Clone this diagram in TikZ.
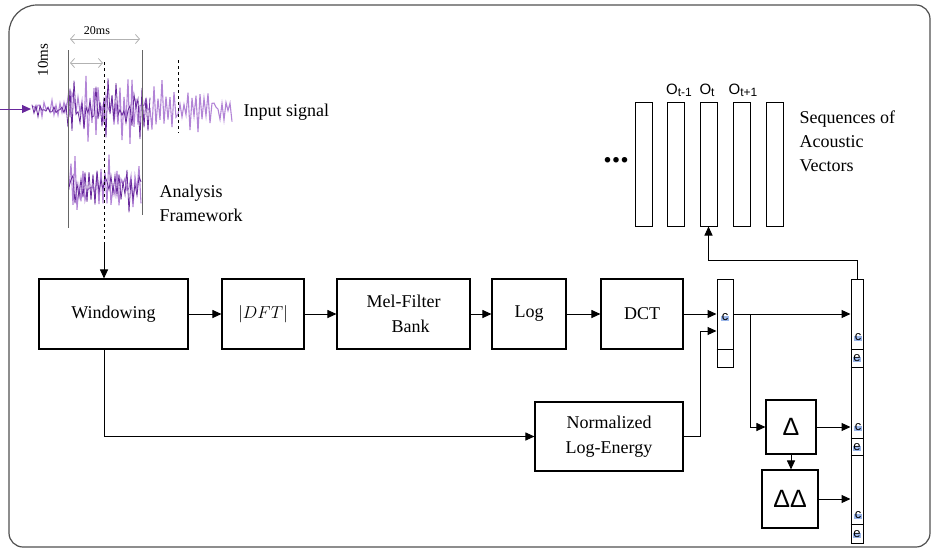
\documentclass[tikz,border=0pt]{standalone}
\usepackage{fontspec}
\setmainfont{Liberation Serif}
\newfontfamily\labelsans{Liberation Sans}
\usetikzlibrary{arrows.meta}

\definecolor{sigdark}{RGB}{104,40,156}
\definecolor{siglight}{RGB}{178,132,214}
\definecolor{framegray}{RGB}{80,80,80}
\definecolor{markblue}{RGB}{110,150,225}

\tikzset{
  stage/.style={draw, line width=1.1pt, minimum height=70pt, align=center,
    inner sep=2pt, font=\fontsize{18}{25}\selectfont},
  deltabox/.style={draw, line width=1.1pt, inner sep=0pt,
    font=\labelsans\fontsize{25}{25}\selectfont},
  vecbar/.style={draw, line width=1pt, minimum width=17pt, minimum height=124pt, inner sep=0pt},
  featbar/.style={draw, line width=1pt, inner sep=0pt},
  cellmark/.style={inner sep=0.6pt, font=\labelsans\fontsize{13}{13}\selectfont,
    path picture={\fill[markblue!70] (path picture bounding box.south west)
      rectangle ([yshift=5pt]path picture bounding box.south east);}},
  flow/.style={line width=1pt, -{Triangle[length=9pt,width=8pt]}},
  gap/.style={gray!60, line width=0.8pt,
    {Straight Barb[length=4pt,width=9pt]}-{Straight Barb[length=4pt,width=9pt]}},
  gaplabel/.style={font=\fontsize{12}{12}\selectfont},
  sidetext/.style={anchor=west, align=left, font=\fontsize{18}{24}\selectfont},
  olabel/.style={anchor=base, font=\labelsans\fontsize{15}{15}\selectfont},
}
\newcommand{\obs}[1]{O\raisebox{-2.5pt}{\fontsize{12}{12}\selectfont #1}}

\begin{document}
\begin{tikzpicture}[x=1pt, y=-1pt,
  declare function={sigamp(\t)=ifthenelse(\t<68,9,ifthenelse(\t<146,32,32-0.17*(\t-146)));
    sigwave(\t)=0.6*sin(10*mod(\t*9.5,36))+0.25*sin(10*mod(\t*23.3,36)+40)+0.35*rand;}]
\useasboundingbox (0,0) rectangle (931,549);
\pgfmathsetseed{17}

% Outer frame
\draw[framegray, line width=1.2pt] (9,300) -- (9,33) arc[start angle=180, end angle=270, radius=28]
  -- (916,5) arc[start angle=270, end angle=360, radius=14]
  -- (930,533) arc[start angle=0, end angle=90, radius=14]
  -- (23,547) arc[start angle=90, end angle=180, radius=14] -- cycle;

% Input signal
\coordinate (sigin) at (0,109);
\coordinate (sigstart) at (31,109);
\draw[sigdark, flow] (sigin) -- (sigstart);
\draw[siglight, line width=1.1pt] plot[domain=32:232, samples=101] (\x, {109+sigamp(\x)*sigwave(\x)});
\draw[sigdark, line width=0.8pt] plot[domain=32:150, samples=60] (\x, {109+0.85*sigamp(\x)*sigwave(\x+1)});
\node[sidetext] (sigtxt) at (240,112) {Input signal};

% Analysis frame
\draw[siglight, line width=1.1pt] plot[domain=69:141, samples=37] (\x, {186+30*sigwave(\x)});
\draw[sigdark, line width=0.8pt] plot[domain=69:141, samples=37] (\x, {186+24*sigwave(\x+1)});
\node[sidetext] (frametxt) at (156,203) {Analysis\\Framework};

% Frame length and shift
\draw[gray!80!black, line width=1pt] (68,50) -- (68,228) (142,50) -- (142,215);
\draw[dashed, line width=1pt] (104,62) -- (104,240) (178,60) -- (178,133);
\draw[gap] (70,39) -- (140,39);
\node[gaplabel] (lenlbl) at (97,31) {20ms};
\draw[gap] (70,63) -- (103,63);
\node[gaplabel, rotate=90, font=\fontsize{15}{15}\selectfont] (shiftlbl) at (43,60) {10ms};

% Front-end stages
\node[stage, minimum width=149pt] (win) at (113.5,314) {Windowing};
\node[stage, minimum width=82pt] (dft) at (263,314) {$|DFT|$};
\node[stage, minimum width=133pt] (mel) at (403.5,314) {Mel-Filter\\\hspace*{14pt}Bank};
\node[stage, minimum width=74pt] (log) at (529,314) {Log};
\node[stage, minimum width=82pt] (dct) at (642,314) {DCT};
\node[stage, minimum width=148pt, minimum height=69pt] (nle) at (609,436.5) {Normalized\\Log-Energy};

% Feature vectors
\node[featbar, minimum width=16pt, minimum height=88pt] (cvec) at (725,323) {};
\node[featbar, minimum width=12pt, minimum height=264pt] (bigv) at (857,411) {};
\draw[line width=1pt] (cvec.west |- 0,349) -- (cvec.east |- 0,349);
\foreach \yy in {349,367,438,455,524}
  \draw[line width=1pt] (bigv.west |- 0,\yy) -- (bigv.east |- 0,\yy);
\node[cellmark] (c0) at (725,317) {c};
\node[cellmark] (c1) at (858,337) {c};
\node[cellmark] (e1) at (857,358) {e};
\node[cellmark] (c2) at (858,427) {c};
\node[cellmark] (e2) at (857,447) {e};
\node[cellmark] (c3) at (858,515) {c};
\node[cellmark] (e3) at (857,534) {e};

% Deltas
\node[deltabox, minimum width=50pt, minimum height=54pt] (del) at (791,427) {Δ};
\node[deltabox, minimum width=56pt, minimum height=58pt] (ddel) at (790,499) {ΔΔ};

% Acoustic vectors
\foreach \i/\xc in {1/643.5,2/675.5,3/708.5,4/741.5,5/774.5}
  \node[vecbar] (o\i) at (\xc,164) {};
\node[olabel] (lprev) at (679,94) {\obs{t-1}};
\node[olabel] (lcur) at (707,94) {\obs{t}};
\node[olabel] (lnext) at (743,94) {\obs{t+1}};
\node[anchor=base, font=\bfseries\fontsize{34}{34}\selectfont] (more) at (616,162) {...};
\node[sidetext] (seqtxt) at (796,141) {Sequences of\\Acoustic\\Vectors};

% Connections
\coordinate (wtap) at (104,242);
\draw[flow] (wtap) -- (wtap |- win.north);
\draw[flow] (win.east) -- (dft.west);
\draw[flow] (dft.east) -- (mel.west);
\draw[flow] (mel.east) -- (log.west);
\draw[flow] (log.east) -- (dct.west);
\draw[flow] (dct.east) -- (dct.east -| cvec.west);
\coordinate (split) at (750,314);
\draw[flow] (split -| cvec.east) -- (split -| bigv.west);
\draw[flow] (split) |- (del.west);
\draw[flow] (del.east) -- (del.east -| bigv.west);
\draw[flow] (del.south) -- (del.south |- ddel.north);
\draw[flow] (ddel.east) -- (ddel.east -| bigv.west);
\draw[flow] (wtap |- win.south) |- (nle.west);
\coordinate (ein) at (700,331);
\draw[flow] (nle.east) -| (ein) -- (ein -| cvec.west);
\draw[flow] (bigv.north) -- ++(0,-18) -| (o3.south);
\end{tikzpicture}
\end{document}
